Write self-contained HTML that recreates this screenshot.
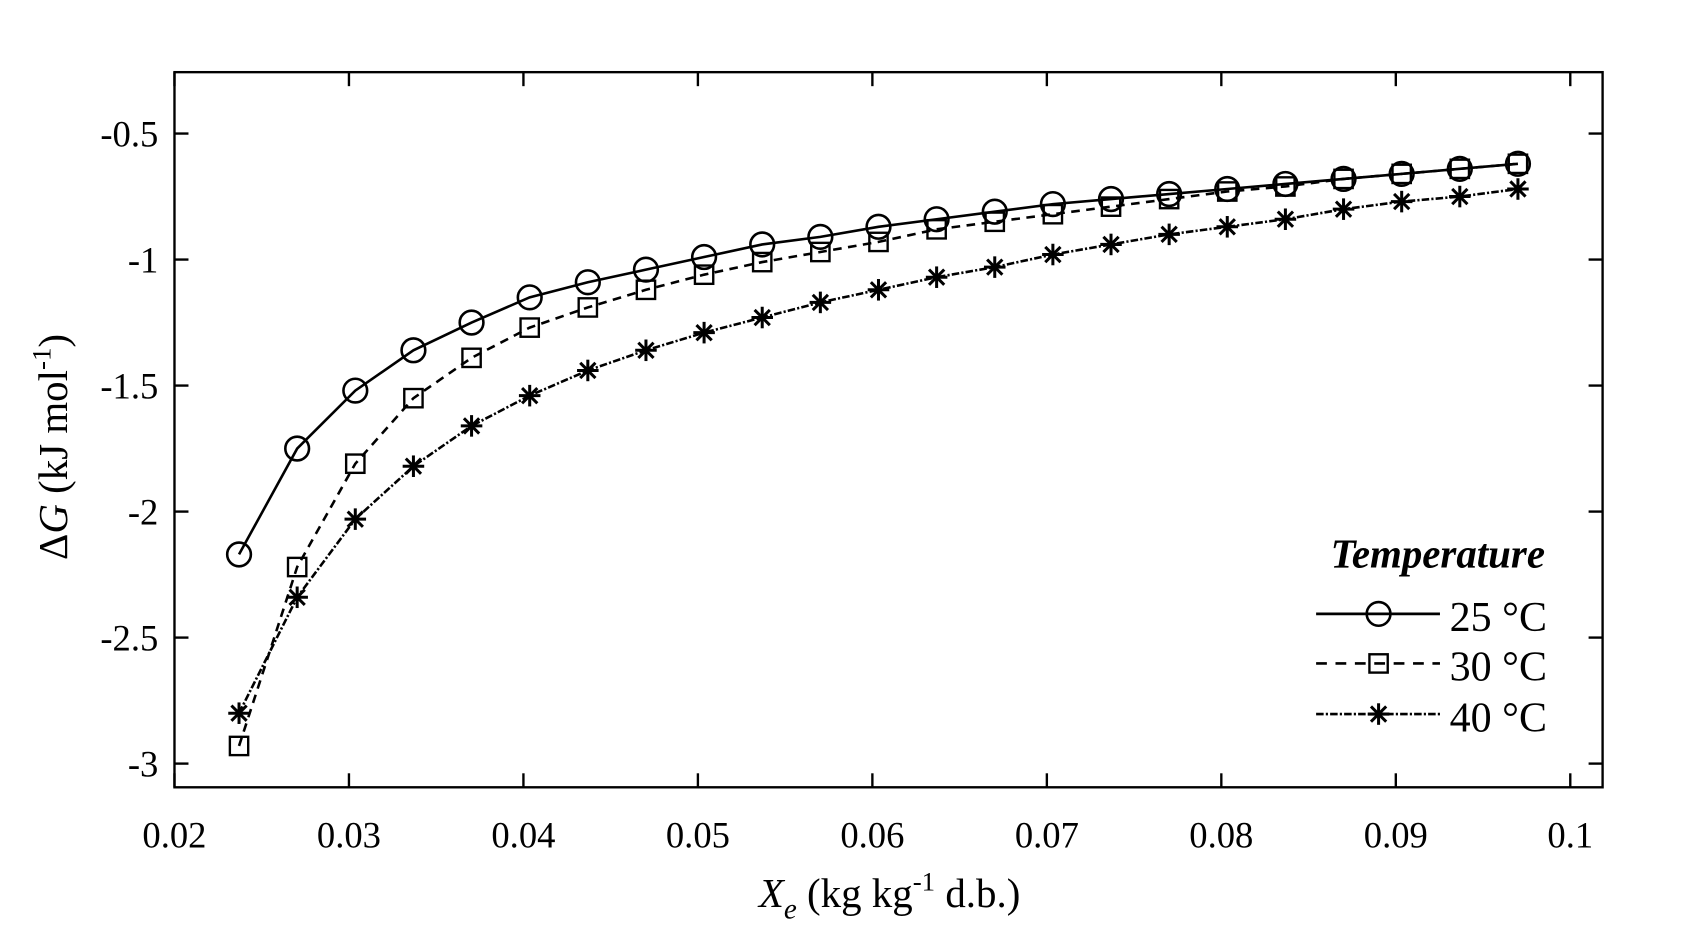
<!DOCTYPE html>
<html><head><meta charset="utf-8"><style>
html,body{margin:0;padding:0;background:#fff;}
svg{display:block;}
text{font-family:"Liberation Serif",serif;fill:#000;}
</style></head><body>
<svg id="s" width="1688" height="944" viewBox="0 0 1567.3 876.5" preserveAspectRatio="none" xmlns="http://www.w3.org/2000/svg"></svg>
<script>
const s=document.getElementById('s');
let h='';
const L=162,R=1488,T=67,B=731;
const X=v=>162+(v-0.02)/0.01*162;
const Y=v=>124+(-0.5-v)/0.5*117;
h+=`<rect x="${L}" y="${T}" width="${R-L}" height="${B-T}" fill="none" stroke="#000" stroke-width="2.2"/>`;
for(let i=0;i<=8;i++){const x=X(0.02+i*0.01);
 h+=`<line x1="${x}" y1="${B}" x2="${x}" y2="${B-13}" stroke="#000" stroke-width="2.2"/><line x1="${x}" y1="${T}" x2="${x}" y2="${T+13}" stroke="#000" stroke-width="2.2"/>`;
 const lab=i==0?'0.02':i==8?'0.1':(0.02+i*0.01).toFixed(2);
 h+=`<text x="${x}" y="787" font-size="34" text-anchor="middle">${lab}</text>`;}
for(let i=0;i<6;i++){const v=-0.5-i*0.5,y=Y(v);
 h+=`<line x1="${L}" y1="${y}" x2="${L+13}" y2="${y}" stroke="#000" stroke-width="2.2"/><line x1="${R}" y1="${y}" x2="${R-13}" y2="${y}" stroke="#000" stroke-width="2.2"/>`;
 h+=`<text x="147" y="${y+12}" font-size="34" text-anchor="end">${v==-1?'-1':v==-2?'-2':v==-3?'-3':v}</text>`;}
const xs=[];for(let i=0;i<23;i++)xs.push(0.0237+i*(0.097-0.0237)/22);
const d25=[-2.17,-1.75,-1.52,-1.36,-1.25,-1.15,-1.09,-1.04,-0.99,-0.94,-0.91,-0.87,-0.84,-0.81,-0.78,-0.76,-0.74,-0.72,-0.70,-0.68,-0.66,-0.64,-0.62];
const d30=[-2.93,-2.22,-1.81,-1.55,-1.39,-1.27,-1.19,-1.12,-1.06,-1.01,-0.97,-0.93,-0.88,-0.85,-0.82,-0.79,-0.76,-0.73,-0.71,-0.68,-0.66,-0.64,-0.62];
const d40=[-2.80,-2.34,-2.03,-1.82,-1.66,-1.54,-1.44,-1.36,-1.29,-1.23,-1.17,-1.12,-1.07,-1.03,-0.98,-0.94,-0.90,-0.87,-0.84,-0.80,-0.77,-0.75,-0.72];
function circ(x,y){return `<circle cx="${x}" cy="${y}" r="11" fill="none" stroke="#000" stroke-width="2.4"/>`;}
function sq(x,y){return `<rect x="${x-8.5}" y="${y-8.5}" width="17" height="17" fill="none" stroke="#000" stroke-width="2.2"/>`;}
function star(x,y){let r=10,o='';for(let k=0;k<4;k++){const a=k*Math.PI/4+Math.PI/2;o+=`<line x1="${x+r*Math.cos(a)}" y1="${y+r*Math.sin(a)}" x2="${x-r*Math.cos(a)}" y2="${y-r*Math.sin(a)}" stroke="#000" stroke-width="2.8"/>`;}return o;}
function series(d,dash,mk){const pts=xs.map((x,i)=>[X(x),Y(d[i])]);
 h+=`<polyline points="${pts.map(p=>p.join(',')).join(' ')}" fill="none" stroke="#000" stroke-width="2.4" ${dash?`stroke-dasharray="${dash}"`:''}/>`;
 pts.forEach(p=>h+=mk(p[0],p[1]));}
series(d40,'7,2,2,2',star);
series(d30,'8,6',sq);
series(d25,null,circ);
h+=`<text x="1335" y="527" font-size="38" font-weight="bold" font-style="italic" text-anchor="middle">Temperature</text>`;
const ly=[570,616,663],labs=['25 °C','30 °C','40 °C'];
h+=`<line x1="1222" y1="${ly[0]}" x2="1337" y2="${ly[0]}" stroke="#000" stroke-width="2.6"/>`+circ(1280,ly[0]);
h+=`<line x1="1222" y1="${ly[1]}" x2="1337" y2="${ly[1]}" stroke="#000" stroke-width="2.4" stroke-dasharray="10,8"/>`+sq(1280,ly[1]);
h+=`<line x1="1222" y1="${ly[2]}" x2="1337" y2="${ly[2]}" stroke="#000" stroke-width="2.4" stroke-dasharray="7,2,2,2"/>`+star(1280,ly[2]);
labs.forEach((t,i)=>h+=`<text x="1346" y="${ly[i]+16}" font-size="39">${t}</text>`);
h+=`<text x="826" y="842" font-size="38" text-anchor="middle"><tspan font-style="italic">X</tspan><tspan font-style="italic" font-size="27" dy="11">e</tspan><tspan dy="-11"> (kg kg</tspan><tspan font-size="25" dy="-15">-1</tspan><tspan dy="15"> d.b.)</tspan></text>`;
h+=`<text transform="translate(62,415) rotate(-90)" font-size="38" text-anchor="middle">Δ<tspan font-style="italic">G</tspan> (kJ mol<tspan font-size="25" dy="-15">-1</tspan><tspan dy="15">)</tspan></text>`;
s.innerHTML=h;
</script>
</body></html>
